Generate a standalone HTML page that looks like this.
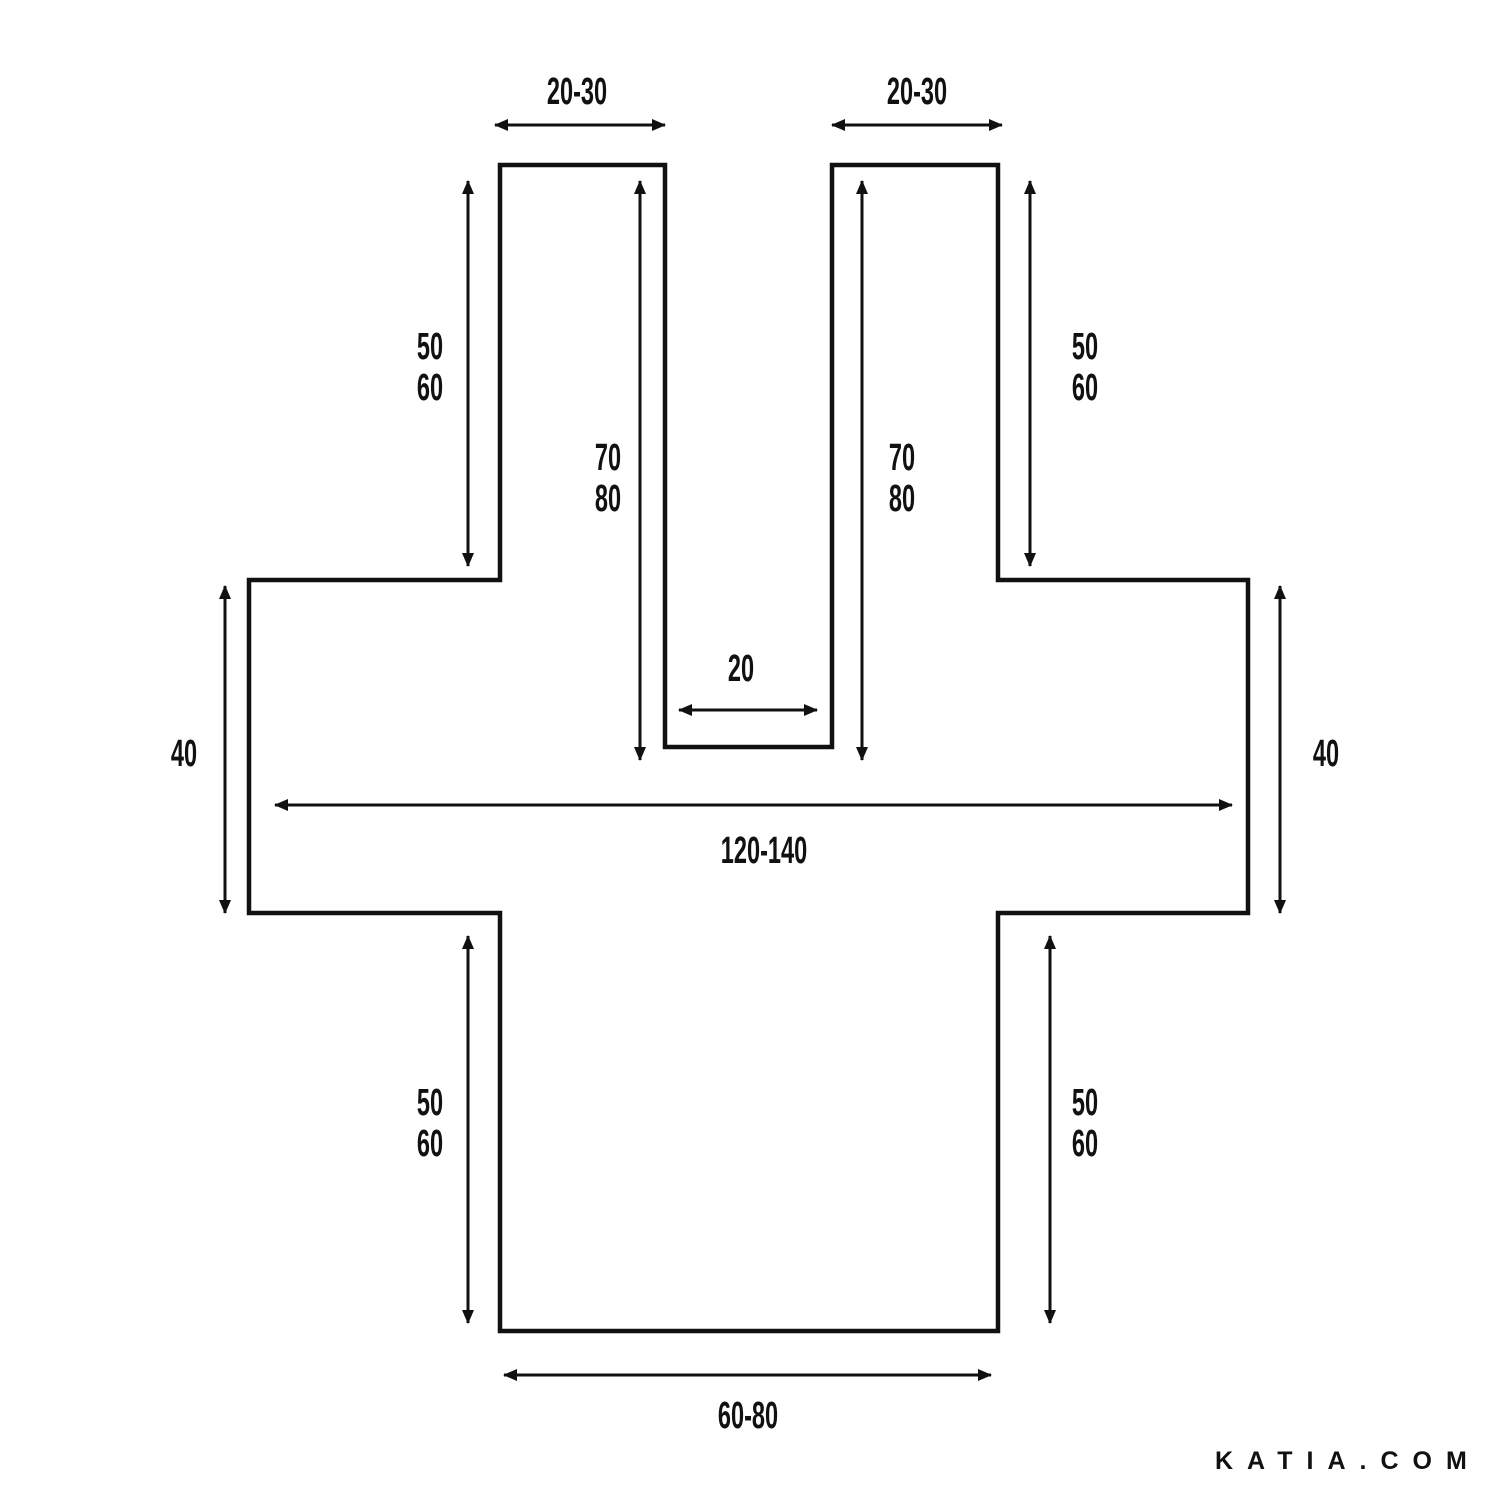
<!DOCTYPE html>
<html><head><style>
html,body{margin:0;padding:0;background:#fff;width:1500px;height:1500px;overflow:hidden}
svg text{font-family:"Liberation Sans",sans-serif;fill:#111}
</style></head><body>
<svg width="1500" height="1500" viewBox="0 0 1500 1500" xmlns="http://www.w3.org/2000/svg">
<defs>
<marker id="a" viewBox="0 0 14 12" refX="13" refY="6" markerWidth="14" markerHeight="12" markerUnits="userSpaceOnUse" orient="auto-start-reverse">
<path d="M0,0 L14,6 L0,12 z" fill="#111"/></marker>
</defs>
<path d="M500,165 L665,165 L665,747 L832,747 L832,165 L998,165 L998,580 L1248,580 L1248,913 L998,913 L998,1331 L500,1331 L500,913 L249,913 L249,580 L500,580 Z" fill="none" stroke="#111" stroke-width="4.5"/>
<g stroke="#111" stroke-width="3" marker-start="url(#a)" marker-end="url(#a)">
<line x1="495" y1="125" x2="665" y2="125"/>
<line x1="832" y1="125" x2="1002" y2="125"/>
<line x1="468" y1="181" x2="468" y2="566"/>
<line x1="640" y1="181" x2="640" y2="760"/>
<line x1="862" y1="181" x2="862" y2="760"/>
<line x1="1030" y1="181" x2="1030" y2="566"/>
<line x1="225" y1="586" x2="225" y2="913"/>
<line x1="1280" y1="586" x2="1280" y2="913"/>
<line x1="679" y1="710" x2="817" y2="710"/>
<line x1="275" y1="805" x2="1232" y2="805"/>
<line x1="468" y1="936" x2="468" y2="1323"/>
<line x1="1050" y1="936" x2="1050" y2="1323"/>
<line x1="504" y1="1375" x2="991" y2="1375"/>
</g>
<g font-size="38" text-anchor="middle" font-weight="bold">
<text transform="translate(577,104) scale(0.62,1)">20-30</text>
<text transform="translate(917,104) scale(0.62,1)">20-30</text>
<text transform="translate(430,359) scale(0.62,1)">50</text>
<text transform="translate(430,400) scale(0.62,1)">60</text>
<text transform="translate(1085,359) scale(0.62,1)">50</text>
<text transform="translate(1085,400) scale(0.62,1)">60</text>
<text transform="translate(608,470) scale(0.62,1)">70</text>
<text transform="translate(608,511) scale(0.62,1)">80</text>
<text transform="translate(902,470) scale(0.62,1)">70</text>
<text transform="translate(902,511) scale(0.62,1)">80</text>
<text transform="translate(741,681) scale(0.62,1)">20</text>
<text transform="translate(184,766) scale(0.62,1)">40</text>
<text transform="translate(1326,766) scale(0.62,1)">40</text>
<text transform="translate(764,863) scale(0.62,1)">120-140</text>
<text transform="translate(430,1115) scale(0.62,1)">50</text>
<text transform="translate(430,1156) scale(0.62,1)">60</text>
<text transform="translate(1085,1115) scale(0.62,1)">50</text>
<text transform="translate(1085,1156) scale(0.62,1)">60</text>
<text transform="translate(748,1428) scale(0.62,1)">60-80</text>
</g>
<text x="1215" y="1469" font-size="25" font-weight="bold" letter-spacing="14">KATIA.COM</text>
</svg>
</body></html>
